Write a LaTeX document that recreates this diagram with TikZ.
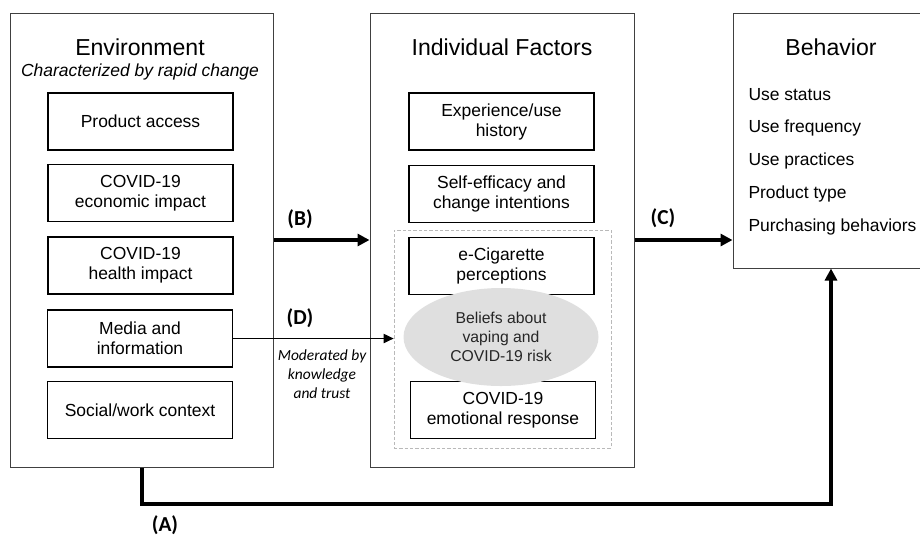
\documentclass[tikz,border=0pt]{standalone}
\usepackage{fontspec}
\setmainfont{Liberation Sans}
\newfontfamily\labelfont{Carlito}
\usetikzlibrary{arrows.meta,shapes.geometric}
\tikzset{every picture/.style={line width=0.75pt}}
\tikzset{
  outerbox/.style={draw={rgb, 255:red, 64; green, 64; blue, 64 }, inner sep=0pt},
  itembox/.style={draw, line width=1pt, minimum width=138.75pt, minimum height=42.75pt, inner sep=0pt, align=center, font=\fontsize{13.1}{15}\selectfont},
  boxtitle/.style={inner sep=0.75pt, font=\fontsize{17.3}{20}\selectfont},
  pathlabel/.style={inner sep=0.75pt, font=\labelfont\bfseries\fontsize{16}{18}\selectfont},
  boldarrow/.style={line width=3pt, -{Triangle[length=9pt,width=9pt]}},
}

\begin{document}
\begin{tikzpicture}[x=0.75pt,y=0.75pt,yscale=-1,xscale=1]
\useasboundingbox (0,0) rectangle (920,537);
%Shape: Rectangle [id:env]
\node [outerbox, minimum width=197.25pt, minimum height=340.5pt] (env) at (141.5,240) {};
%Shape: Rectangle [id:ind]
\node [outerbox, minimum width=198pt, minimum height=340.5pt] (ind) at (502,240) {};
%Shape: Rectangle [id:beh]
\node [outerbox, minimum width=147pt, minimum height=191.25pt] (beh) at (831,140.5) {};
% Text Node
\node [boxtitle] (envtitle) at (140,47) {Environment};
\node [inner sep=0.75pt, font=\itshape\fontsize{13.1}{15}\selectfont] (envsub) at (140,72) {Characterized by rapid change};
\node [boxtitle] (indtitle) at (502,47) {Individual Factors};
\node [boxtitle] (behtitle) at (831,47) {Behavior};
%Shape: Rectangle [id:environment items]
\node [itembox] (access) at (140.5,121.5) {Product access};
\node [itembox] (econ) at (140.5,193) {COVID-19\\economic impact};
\node [itembox] (health) at (140.5,265.5) {COVID-19\\health impact};
\node [itembox] (media) at (140,338.5) {Media and\\information};
\node [itembox] (social) at (140,410) {Social/work context};
%Shape: Rectangle [id:group]
\node [draw=gray!55, line width=0.6pt, dash pattern=on 2.5pt off 1.5pt, minimum width=162.75pt, minimum height=163.5pt, inner sep=0pt] (grp) at (502.5,339) {};
%Shape: Rectangle [id:individual items]
\node [itembox] (hist) at (501.5,121.5) {Experience/use\\history};
\node [itembox] (efficacy) at (501.5,194) {Self-efficacy and\\change intentions};
\node [itembox] (ecig) at (501.5,266) {e-Cigarette\\perceptions};
\node [itembox] (emotion) at (503,410) {COVID-19\\emotional response};
%Shape: Ellipse [id:beliefs]
\node [ellipse, fill=gray!25, minimum width=146.25pt, minimum height=73.5pt, inner sep=0pt, align=center, text=black!85, font=\fontsize{11.8}{14}\selectfont] (beliefs) at (501,337) {Beliefs about\\vaping and\\COVID-19 risk};
% Text Node
\foreach \name/\txt [count=\i] in {status/Use status, freq/Use frequency, practice/Use practices, ptype/Product type, purchase/Purchasing behaviors}
  \node [anchor=west, inner sep=0pt, font=\fontsize{13.1}{15}\selectfont] (\name) at (748,62+33*\i) {\txt};
%Straight Lines [id:B]
\draw [boldarrow] (env.east) -- (ind.west);
\node [pathlabel] (lblB) at (300,219) {(B)};
%Straight Lines [id:C]
\draw [boldarrow] (ind.east) -- (ind.east -| beh.west);
\node [pathlabel] (lblC) at (663,218) {(C)};
%Straight Lines [id:D]
\draw [-{Triangle[length=7.5pt,width=7pt]}] (media.east) -- (media.east -| grp.west);
\node [pathlabel] (lblD) at (300,318) {(D)};
\node [inner sep=0.75pt, align=center, font=\labelfont\itshape\fontsize{11.6}{14.3}\selectfont] (moderated) at (322,374) {Moderated by\\knowledge\\and trust};
%Straight Lines [id:A]
\draw [boldarrow] (env.south) -- ++(0,36) -| (beh.south);
\node [pathlabel] (lblA) at (165,525) {(A)};
\end{tikzpicture}
\end{document}
